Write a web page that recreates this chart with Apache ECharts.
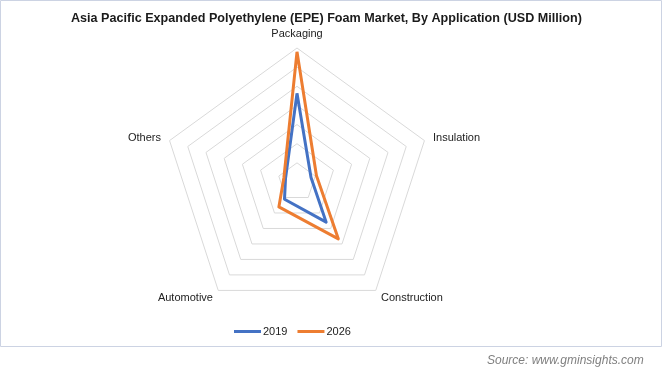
<!DOCTYPE html>
<html><head><meta charset="utf-8">
<script src="https://cdn.jsdelivr.net/npm/echarts@6/dist/echarts.min.js"></script>
<style>html,body{margin:0;padding:0;background:#fff}#c{width:664px;height:384px}</style>
</head><body><div id="c"></div>
<script>
var categories = ['Packaging', 'Others', 'Automotive', 'Construction', 'Insulation'];
var values2019 = [2315, 315, 555, 1295, 385];
var values2026 = [3400, 360, 805, 1835, 535];
var axisMax = 3500;
var seriesNames = ['2019', '2026'];

var chart = echarts.init(document.getElementById('c'), null, {renderer: 'canvas'});
chart.setOption({
  animation: false,
  title: {
    text: 'Asia Pacific Expanded Polyethylene (EPE) Foam Market, By Application (USD Million)',
    left: 66, top: 7,
    textStyle: {fontFamily: 'Arial, "Liberation Sans", sans-serif', fontSize: 12.6, fontWeight: 'bold', color: '#1a1a1a'}
  },
  legend: {
    top: 321, left: 229, itemWidth: 27, itemHeight: 3, itemGap: 10,
    icon: 'rect',
    textStyle: {fontFamily: 'Arial, sans-serif', fontSize: 11, color: '#222', padding: [0, 0, 0, -3]},
    data: seriesNames
  },
  radar: {
    center: [297, 182], radius: 134, startAngle: 90,
    splitNumber: 7,
    shape: 'polygon',
    indicator: categories.map(function (c) { return {name: c, max: axisMax, min: 0}; }),
    axisName: {color: '#222', fontFamily: 'Arial, sans-serif', fontSize: 11},
    nameGap: 9,
    axisLine: {show: false},
    splitLine: {lineStyle: {color: '#d9d9d9', width: 1}},
    splitArea: {show: false},
    axisTick: {show: false},
    axisLabel: {show: false}
  },
  series: [{
    type: 'radar',
    symbol: 'none',
    data: [
      {name: seriesNames[0], value: values2019, lineStyle: {color: '#4472C4', width: 3}, itemStyle: {color: '#4472C4'}},
      {name: seriesNames[1], value: values2026, lineStyle: {color: '#ED7D31', width: 3}, itemStyle: {color: '#ED7D31'}}
    ]
  }],
  graphic: [
    {type: 'rect', shape: {x: 0.5, y: 0.5, width: 661, height: 346}, style: {fill: 'none', stroke: '#ccd3e3', lineWidth: 1}, silent: true},
    {type: 'text', left: 487, top: 355, style: {text: 'Source: www.gminsights.com', fill: '#7f7f7f', font: 'italic 12px Arial, sans-serif'}}
  ]
});
</script></body></html>
